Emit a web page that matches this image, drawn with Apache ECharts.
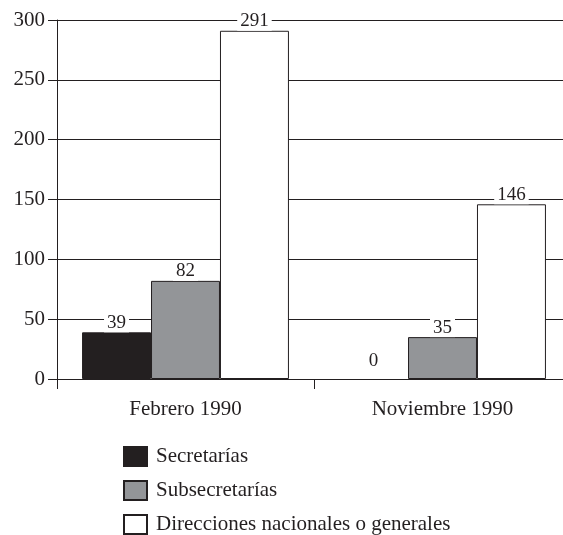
<!DOCTYPE html>
<html><head><meta charset="utf-8">
<script src="https://cdn.jsdelivr.net/npm/echarts@6/dist/echarts.min.js"></script>
<style>html,body{margin:0;padding:0;background:#fff}#c{width:563px;height:535px}</style>
</head><body><div id="c"></div>
<script>
var categories = ['Febrero 1990', 'Noviembre 1990'];
var seriesNames = ['Secretarías', 'Subsecretarías', 'Direcciones nacionales o generales'];
var secretarias = [39, 0];
var subsecretarias = [82, 35];
var direcciones = [291, 146];
var yTicks = [0, 50, 100, 150, 200, 250, 300];

var FONT = 'Liberation Serif';
var INK = '#231f20';
var colors = ['#231f20', '#939598', '#ffffff'];
var values = [secretarias, subsecretarias, direcciones];

var chart = echarts.init(document.getElementById('c'));
chart.setOption({
  animation: false,
  backgroundColor: '#fff',
  grid: { left: 57, width: 514, top: 20, bottom: 156, containLabel: false, outerBoundsMode: 'none' },
  legend: {
    orient: 'vertical', left: 118, top: 441, height: 200, width: 440, itemGap: 13,
    itemWidth: 23, itemHeight: 19,
    icon: 'rect',
    textStyle: { fontFamily: FONT, fontSize: 21, color: INK, padding: [0, 0, 0, 4] },
    data: seriesNames
  },
  xAxis: {
    type: 'category', data: categories,
    axisLine: { show: true, lineStyle: { color: INK, width: 1 } },
    axisTick: { show: true, length: 10, lineStyle: { color: INK } },
    axisLabel: { fontFamily: FONT, fontSize: 21, color: INK, margin: 20 }
  },
  yAxis: {
    type: 'value', min: 0, max: 300, interval: 50,
    axisLine: { show: true, lineStyle: { color: INK, width: 1 } },
    axisTick: { show: true, length: 9, lineStyle: { color: INK } },
    axisLabel: {
      fontFamily: FONT, fontSize: 21, color: INK, margin: 12,
      formatter: function (v) { return yTicks.indexOf(v) >= 0 ? String(v) : ''; }
    },
    splitLine: { show: true, lineStyle: { color: INK, width: 1 } }
  },
  series: seriesNames.map(function (n, i) {
    return {
      name: n, type: 'bar',
      data: values[i].map(function (v) {
        return v === 0 ? { value: v, itemStyle: { borderWidth: 0 }, label: { distance: 8 } } : v;
      }),
      barGap: '0%', barCategoryGap: '19.5%',
      itemStyle: { color: colors[i], borderColor: INK, borderWidth: 1 },
      label: {
        show: true, position: 'top', distance: 0,
        fontFamily: FONT, fontSize: 19, color: INK,
        backgroundColor: '#fff', padding: [0, 3, 0, 3]
      }
    };
  })
});
</script></body></html>
